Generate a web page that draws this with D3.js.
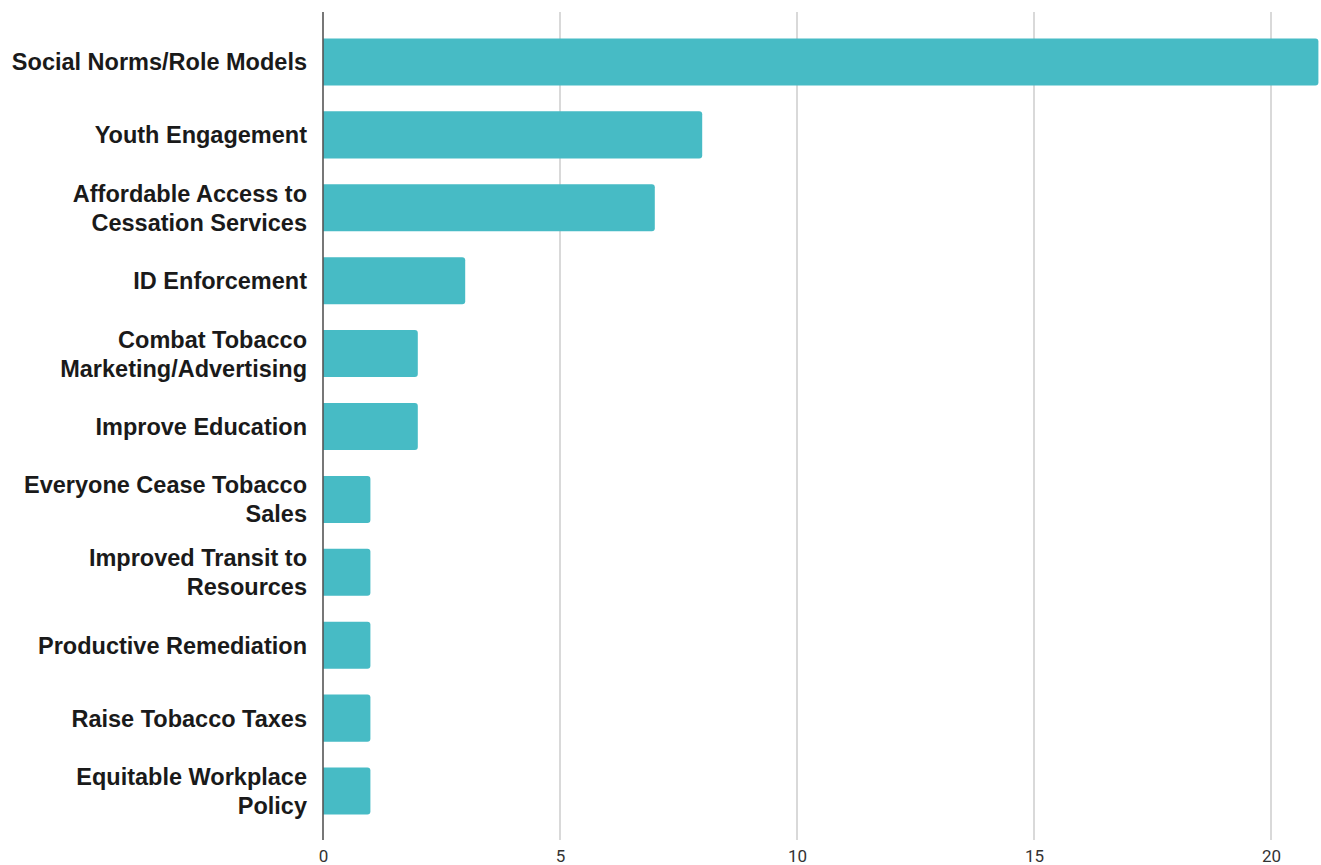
<!DOCTYPE html>
<html>
<head>
<meta charset="utf-8">
<script src="https://cdn.jsdelivr.net/npm/d3@7/dist/d3.min.js"></script>
<style>
  html, body { margin: 0; padding: 0; background: #fff; }
  svg { display: block; }
</style>
</head>
<body>
<svg id="chart" width="1321" height="865"></svg>
<script>
// Responses per strategy (line breaks mark how the labels wrap)
const categories = [
  "Social Norms/Role Models",
  "Youth Engagement",
  "Affordable Access to\nCessation Services",
  "ID Enforcement",
  "Combat Tobacco\nMarketing/Advertising",
  "Improve Education",
  "Everyone Cease Tobacco\nSales",
  "Improved Transit to\nResources",
  "Productive Remediation",
  "Raise Tobacco Taxes",
  "Equitable Workplace\nPolicy"
];
const counts = [21, 8, 7, 3, 2, 2, 1, 1, 1, 1, 1];
const tickValues = [0, 5, 10, 15, 20];

const svg = d3.select("#chart");
const plotLeft = 323, plotTop = 12, plotBottom = 840;

const x = d3.scaleLinear().domain([0, 21]).range([plotLeft, plotLeft + 21 * 47.4]);
const y = d3.scaleBand().domain(categories).range([25.5, 827.5]).paddingInner(0.355).paddingOuter(0.1775);

// vertical gridlines
svg.append("g").selectAll("line")
  .data(tickValues.filter(d => d > 0))
  .join("line")
  .attr("x1", d => x(d)).attr("x2", d => x(d))
  .attr("y1", plotTop).attr("y2", plotBottom)
  .attr("stroke", "#d9d9d9").attr("stroke-width", 2);

// bars with rounded right end
svg.append("g").selectAll("path")
  .data(categories.map((c, i) => ({ c, v: counts[i] })))
  .join("path")
  .attr("fill", "#47bbc5")
  .attr("d", d => {
    const x0 = x(0), x1 = x(d.v), y0 = y(d.c), h = y.bandwidth(), r = 3;
    return `M${x0},${y0}H${x1 - r}Q${x1},${y0} ${x1},${y0 + r}V${y0 + h - r}Q${x1},${y0 + h} ${x1 - r},${y0 + h}H${x0}Z`;
  });

// baseline at zero
svg.append("line")
  .attr("x1", x(0)).attr("x2", x(0))
  .attr("y1", plotTop).attr("y2", plotBottom)
  .attr("stroke", "#555").attr("stroke-width", 1.6);

// x axis tick labels
const xAxis = d3.axisBottom(x).tickValues(tickValues).tickSize(0).tickPadding(0);
const gx = svg.append("g").attr("transform", `translate(0,${plotBottom + 10})`).call(xAxis);
gx.select(".domain").remove();
gx.selectAll("text")
  .attr("font-family", "Roboto, 'Liberation Sans', sans-serif")
  .attr("font-size", 17)
  .attr("fill", "#333");

// category labels, right aligned against the axis
const lineGap = 29;
const labels = svg.append("g")
  .attr("font-family", "'Liberation Sans', Arial, sans-serif")
  .attr("font-weight", "bold")
  .attr("font-size", 23.5)
  .attr("fill", "#1a1a1a")
  .attr("text-anchor", "end");
categories.forEach(c => {
  const lines = c.split("\n");
  const cy = y(c) + y.bandwidth() / 2;
  const t = labels.append("text").attr("x", 307);
  lines.forEach((ln, i) => {
    t.append("tspan")
      .attr("x", 307)
      .attr("y", cy + (i - (lines.length - 1) / 2) * lineGap + 8.5)
      .text(ln);
  });
});
</script>
</body>
</html>
